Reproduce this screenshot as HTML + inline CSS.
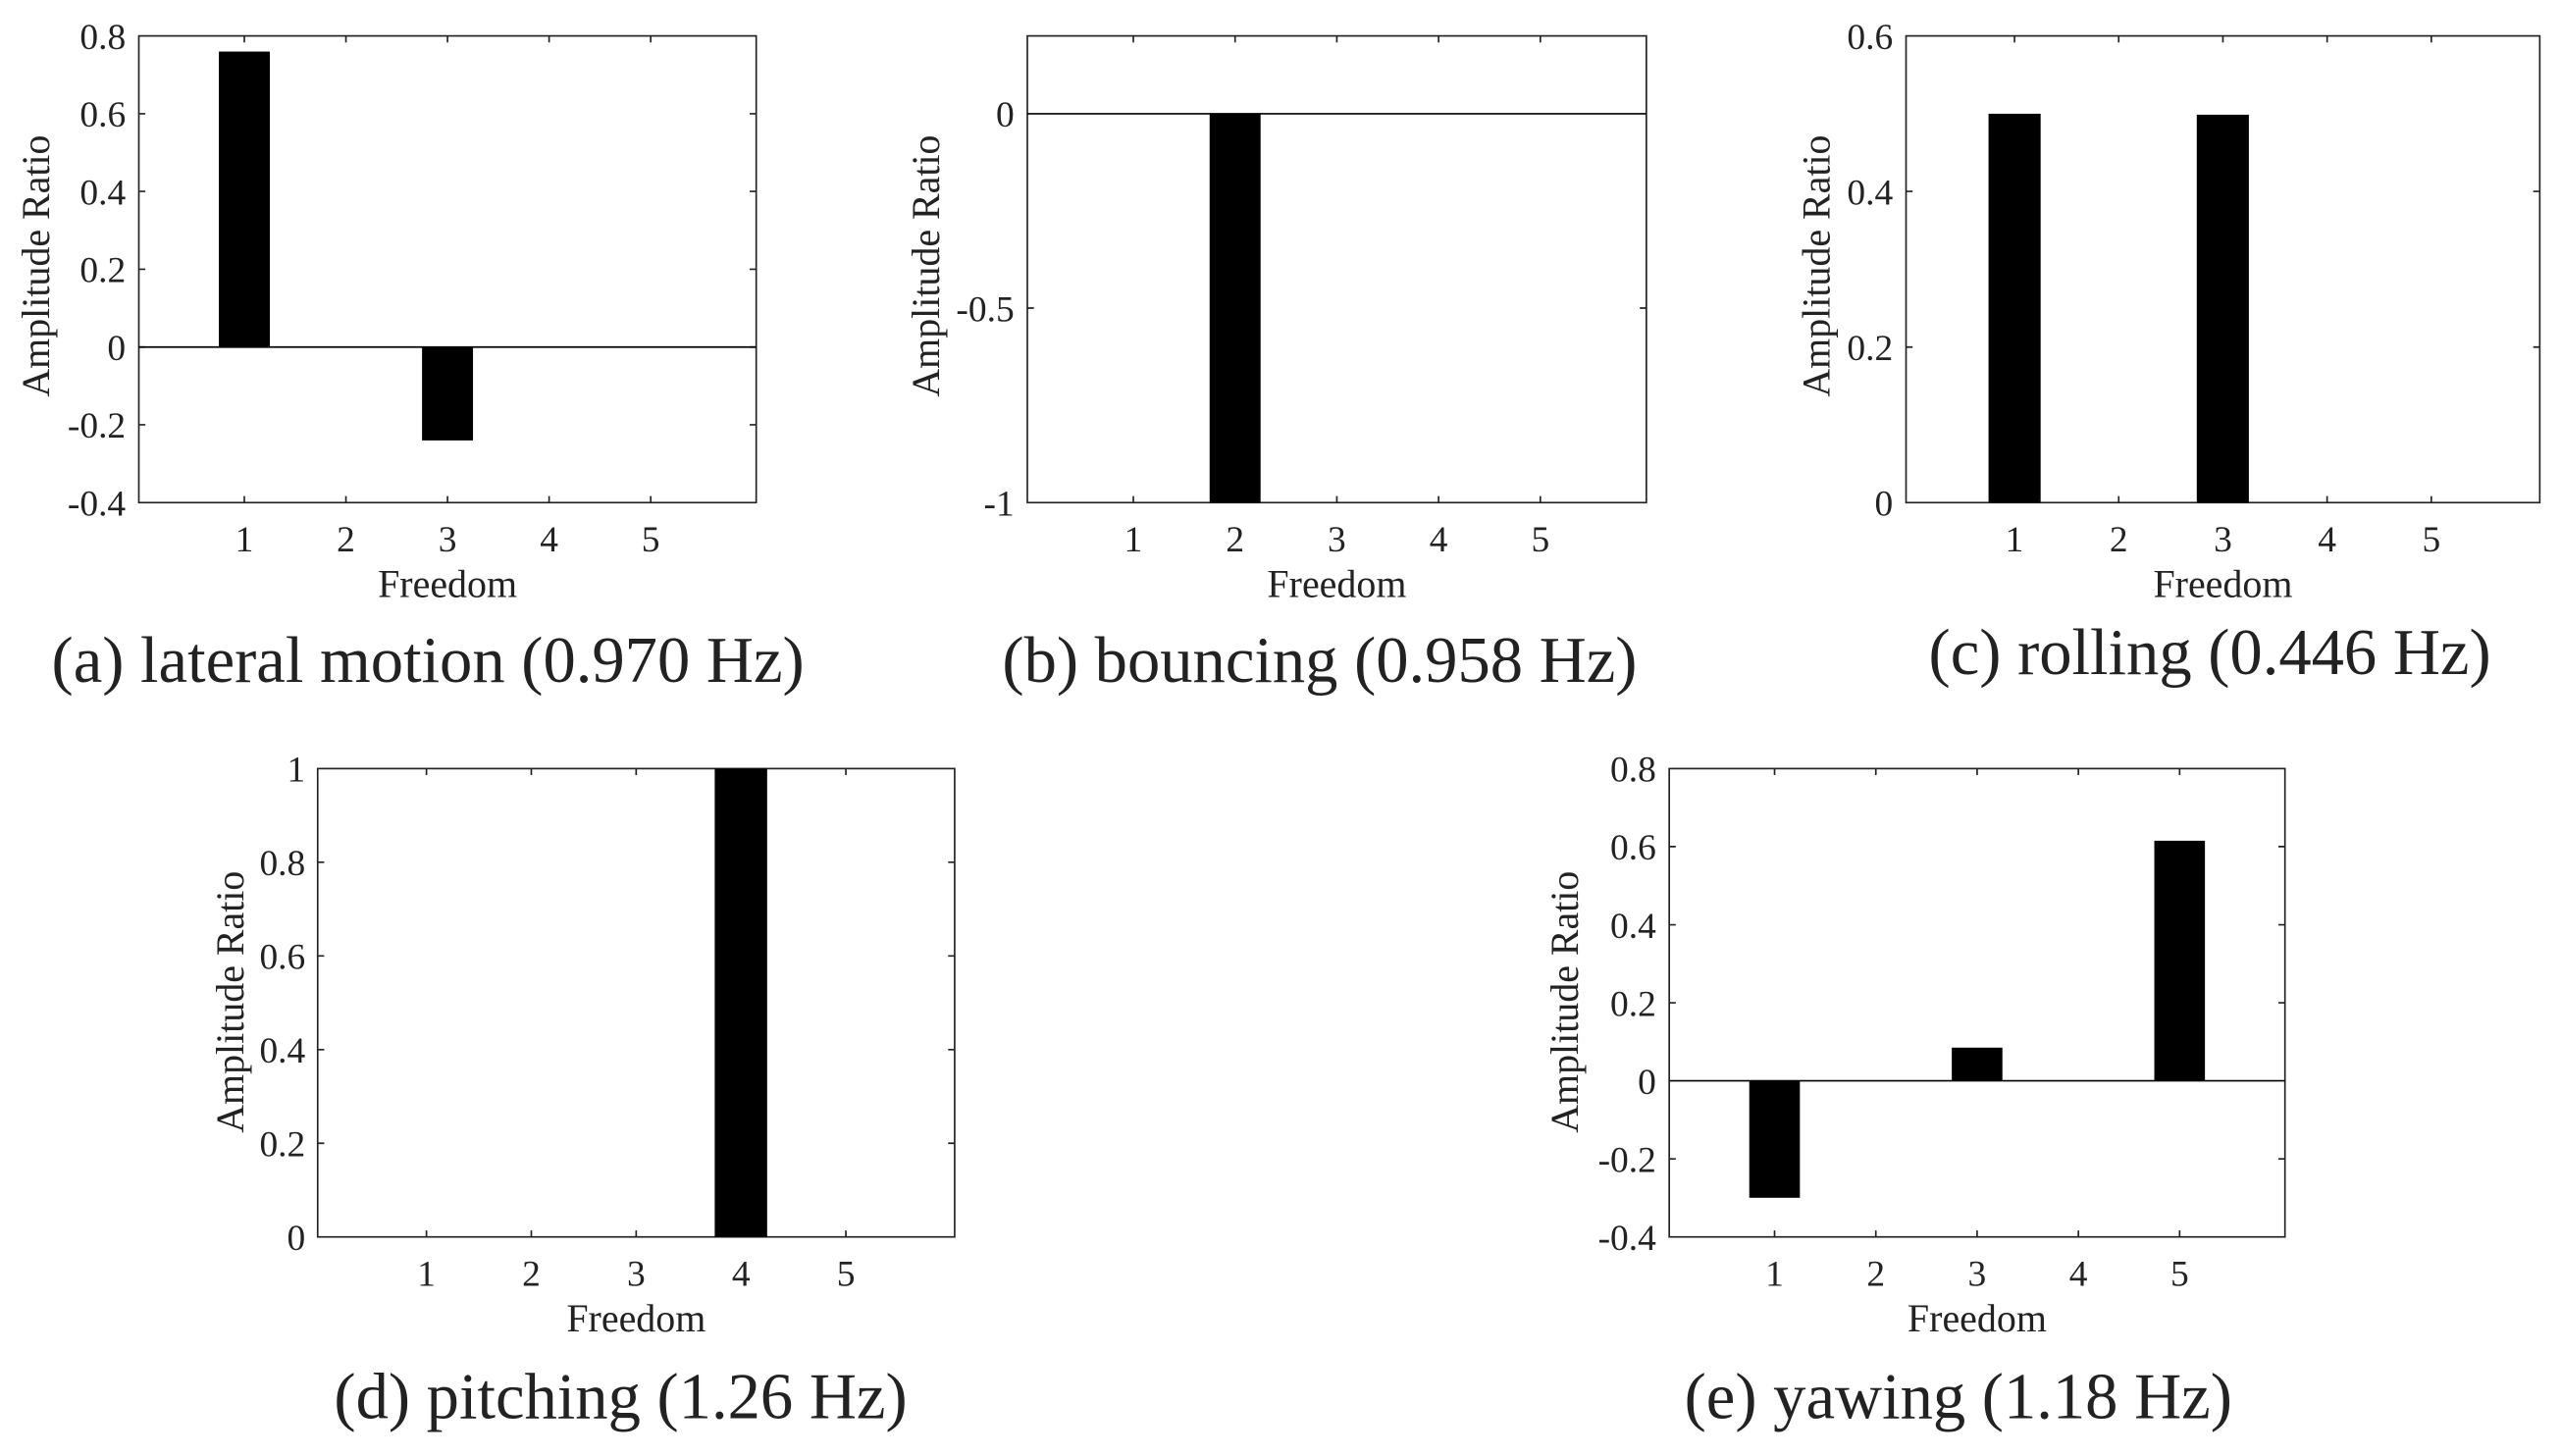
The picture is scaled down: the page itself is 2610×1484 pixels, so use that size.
<!DOCTYPE html>
<html><head><meta charset="utf-8"><style>
html,body{margin:0;padding:0;background:#fff;}
svg{display:block;}
text{font-family:"Liberation Serif",serif;fill:#222;}
.t{font-size:22.5px;}
.ax{font-size:24px;}
.ttl{font-size:40px;fill:#000;}
</style></head><body>
<svg width="2610" height="1484" viewBox="0 0 1568 886" preserveAspectRatio="none" xmlns="http://www.w3.org/2000/svg">
<rect width="1568" height="886" fill="#fff"/>
<g transform="scale(1,0.993)">
<g stroke="#222" stroke-width="1" fill="none">
<rect x="85" y="22" width="378" height="286"/>
<path d="M149.6 308v-4M211.8 308v-4M274 308v-4M336.2 308v-4M398.4 308v-4M149.6 22v4M211.8 22v4M274 22v4M336.2 22v4M398.4 22v4
M85 260.3h4M85 212.7h4M85 165h4M85 117.3h4M85 69.7h4M463 260.3h-4M463 212.7h-4M463 165h-4M463 117.3h-4M463 69.7h-4"/>
<rect x="629" y="22" width="379" height="286"/>
<path d="M693.9 308v-4M756.2 308v-4M818.5 308v-4M880.8 308v-4M943.1 308v-4M693.9 22v4M756.2 22v4M818.5 22v4M880.8 22v4M943.1 22v4
M629 188.8h4M1008 188.8h-4"/>
<rect x="1167" y="22" width="388" height="286"/>
<path d="M1233.4 308v-4M1297.2 308v-4M1361 308v-4M1424.8 308v-4M1488.6 308v-4M1233.4 22v4M1297.2 22v4M1361 22v4M1424.8 22v4M1488.6 22v4
M1167 212.7h4M1167 117.3h4M1555 212.7h-4M1555 117.3h-4"/>
<rect x="194.5" y="471" width="390" height="287"/>
<path d="M261.1 758v-4M325.3 758v-4M389.5 758v-4M453.7 758v-4M517.9 758v-4M261.1 471v4M325.3 471v4M389.5 471v4M453.7 471v4M517.9 471v4
M194.5 700.6h4M194.5 643.2h4M194.5 585.8h4M194.5 528.4h4M584.5 700.6h-4M584.5 643.2h-4M584.5 585.8h-4M584.5 528.4h-4"/>
<rect x="1022" y="471" width="377" height="287"/>
<path d="M1086.5 758v-4M1148.5 758v-4M1210.5 758v-4M1272.5 758v-4M1334.5 758v-4M1086.5 471v4M1148.5 471v4M1210.5 471v4M1272.5 471v4M1334.5 471v4
M1022 710.2h4M1022 614.5h4M1022 566.7h4M1022 518.8h4M1399 710.2h-4M1399 614.5h-4M1399 566.7h-4M1399 518.8h-4"/>
<path d="M85 212.7H463M629 69.7H1008M1022 662.3H1399" stroke="#000"/>
</g>
<g fill="#000">
<rect x="134" y="31.6" width="31.2" height="181.1"/>
<rect x="258.4" y="212.7" width="31.2" height="57.2"/>
<rect x="740.6" y="69.7" width="31.2" height="238.3"/>
<rect x="1217.5" y="69.7" width="31.9" height="238.3"/>
<rect x="1345" y="70.3" width="31.9" height="237.7"/>
<rect x="437.6" y="471" width="32.1" height="287"/>
<rect x="1071" y="662.3" width="31" height="71.7"/>
<rect x="1195" y="642" width="31" height="20.3"/>
<rect x="1319" y="515.2" width="31" height="147.1"/>
</g>
<g class="t" text-anchor="end">
<text x="77" y="30">0.8</text><text x="77" y="77.7">0.6</text><text x="77" y="125.3">0.4</text><text x="77" y="173">0.2</text><text x="77" y="220.7">0</text><text x="77" y="268.3">-0.2</text><text x="77" y="316">-0.4</text>
<text x="621" y="77.7">0</text><text x="621" y="196.8">-0.5</text><text x="621" y="316">-1</text>
<text x="1159" y="30">0.6</text><text x="1159" y="125.3">0.4</text><text x="1159" y="220.7">0.2</text><text x="1159" y="316">0</text>
<text x="187" y="479">1</text><text x="187" y="536.4">0.8</text><text x="187" y="593.8">0.6</text><text x="187" y="651.2">0.4</text><text x="187" y="708.6">0.2</text><text x="187" y="766">0</text>
<text x="1014" y="479">0.8</text><text x="1014" y="526.8">0.6</text><text x="1014" y="574.7">0.4</text><text x="1014" y="622.5">0.2</text><text x="1014" y="670.3">0</text><text x="1014" y="718.2">-0.2</text><text x="1014" y="766">-0.4</text>
</g>
<g class="t" text-anchor="middle">
<text x="149.6" y="338">1</text><text x="211.8" y="338">2</text><text x="274" y="338">3</text><text x="336.2" y="338">4</text><text x="398.4" y="338">5</text>
<text x="693.9" y="338">1</text><text x="756.2" y="338">2</text><text x="818.5" y="338">3</text><text x="880.8" y="338">4</text><text x="943.1" y="338">5</text>
<text x="1233.4" y="338">1</text><text x="1297.2" y="338">2</text><text x="1361" y="338">3</text><text x="1424.8" y="338">4</text><text x="1488.6" y="338">5</text>
<text x="261.1" y="788">1</text><text x="325.3" y="788">2</text><text x="389.5" y="788">3</text><text x="453.7" y="788">4</text><text x="517.9" y="788">5</text>
<text x="1086.5" y="788">1</text><text x="1148.5" y="788">2</text><text x="1210.5" y="788">3</text><text x="1272.5" y="788">4</text><text x="1334.5" y="788">5</text>
</g>
<g class="ax" text-anchor="middle">
<text x="274" y="366">Freedom</text><text x="818.5" y="366">Freedom</text><text x="1361" y="366">Freedom</text>
<text x="389.5" y="816">Freedom</text><text x="1210.5" y="816">Freedom</text>
<text transform="translate(30,163) rotate(-90)">Amplitude Ratio</text>
<text transform="translate(575,163) rotate(-90)">Amplitude Ratio</text>
<text transform="translate(1120,163) rotate(-90)">Amplitude Ratio</text>
<text transform="translate(149,614) rotate(-90)">Amplitude Ratio</text>
<text transform="translate(966,614) rotate(-90)">Amplitude Ratio</text>
</g>
<g class="ttl" text-anchor="middle">
<text x="262" y="418">(a) lateral motion (0.970 Hz)</text>
<text x="808" y="418">(b) bouncing (0.958 Hz)</text>
<text x="1353" y="413">(c) rolling (0.446 Hz)</text>
<text x="380" y="869">(d) pitching (1.26 Hz)</text>
<text x="1199" y="869">(e) yawing (1.18 Hz)</text>
</g>
</g>
</svg>
</body></html>
